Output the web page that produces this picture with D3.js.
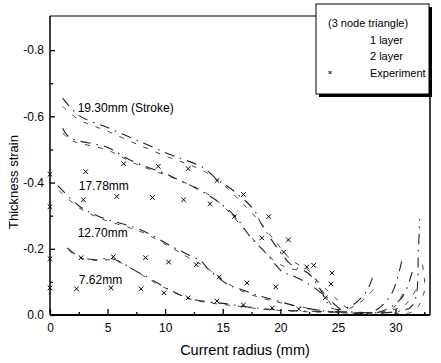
<!DOCTYPE html>
<html>
<head>
<meta charset="utf-8">
<script src="https://cdn.jsdelivr.net/npm/d3@7"></script>
<style>
  body { margin: 0; background: #fff; }
  svg { font-family: "Liberation Sans", Arial, sans-serif; }
</style>
</head>
<body>
<div id="chart"></div>
<script>
// stroke labels
const strokes = ["19.30mm (Stroke)", "17.78mm", "12.70mm", "7.62mm"];
const labelPos = [[2.4, -0.612], [2.5, -0.379], [2.4, -0.236], [2.5, -0.094]];

// FE curves, [radius, thickness strain]
const s1930_1L = [[1.1,-0.655],[2.5,-0.603],[5,-0.566],[7.8,-0.524],[10.4,-0.485],[11.6,-0.47],[13.3,-0.445],[14.5,-0.41],[15.8,-0.379],[17.7,-0.318],[18.4,-0.272],[20,-0.19],[21,-0.15],[22.4,-0.127],[23.5,-0.076],[24.5,-0.02],[26,-0.025],[27.4,-0.067],[28,-0.112]];
const s1930_2L = [[1.1,-0.63],[2.5,-0.59],[5,-0.555],[7.8,-0.512],[10.4,-0.475],[12,-0.455],[13.6,-0.43],[15,-0.395],[16.5,-0.345],[18,-0.29],[19.5,-0.225],[21,-0.165],[22.6,-0.13],[23.8,-0.065],[25,-0.012],[26.8,-0.035],[28.3,-0.085]];
const s1778_1L = [[1.1,-0.564],[1.7,-0.536],[5,-0.506],[7,-0.467],[10.2,-0.424],[11.3,-0.406],[12.4,-0.388],[14.2,-0.352],[16.1,-0.297],[17.4,-0.236],[18.8,-0.185],[20.2,-0.13],[20.9,-0.121],[22.3,-0.097],[23.8,-0.06],[25.6,-0.012],[28,-0.01],[29.6,-0.06],[30.6,-0.173]];
const s1778_2L = [[1.1,-0.55],[1.8,-0.528],[5,-0.498],[7.2,-0.46],[10.4,-0.418],[12,-0.395],[13.5,-0.37],[15,-0.33],[16.6,-0.27],[18,-0.215],[19.6,-0.16],[20.9,-0.14],[22.4,-0.127],[23.6,-0.09],[25,-0.045],[26.5,-0.008],[29.5,-0.012],[30.9,-0.082]];
const s1270_1L = [[0.7,-0.39],[2.5,-0.33],[4.3,-0.297],[7.8,-0.258],[10.7,-0.205],[12,-0.182],[13.2,-0.16],[13.7,-0.14],[15.5,-0.091],[16.2,-0.082],[18,-0.06],[20,-0.04],[22,-0.022],[25,-0.008],[28.5,-0.008],[30.5,-0.05],[31.5,-0.136]];
const s1270_2L = [[0.8,-0.375],[2.6,-0.322],[4.5,-0.29],[8,-0.25],[10.8,-0.198],[12.2,-0.17],[13.5,-0.145],[14.8,-0.11],[16.5,-0.075],[18.5,-0.05],[21,-0.03],[24,-0.012],[28,-0.006],[30.8,-0.03],[31.9,-0.085]];
const s762_1L = [[1.5,-0.203],[2.6,-0.175],[3.9,-0.167],[5.4,-0.17],[7.6,-0.13],[8.4,-0.115],[10.4,-0.076],[11.9,-0.052],[13.7,-0.04],[15,-0.035],[17,-0.025],[20,-0.015],[25,-0.01],[30,-0.01],[31.5,-0.03],[32,-0.206],[32.1,-0.29]];
const s762_2L = [[1.6,-0.195],[2.7,-0.172],[4,-0.165],[5.6,-0.165],[7.8,-0.125],[9,-0.1],[10.8,-0.068],[12.2,-0.048],[14,-0.036],[16,-0.028],[19,-0.016],[24,-0.008],[29,-0.008],[31.5,-0.01],[32.5,-0.07],[32.3,-0.16]];

const oneLayer = [s1930_1L, s1778_1L, s1270_1L, s762_1L];
const twoLayer = [s1930_2L, s1778_2L, s1270_2L, s762_2L];

// experiment points
const exp1930 = [[0,-0.425],[3.1,-0.433],[6.4,-0.457],[9.4,-0.449],[12.0,-0.442],[14.5,-0.406],[16.8,-0.364],[19.0,-0.297],[20.7,-0.227],[22.3,-0.145],[22.9,-0.15]];
const exp1778 = [[0,-0.327],[2.9,-0.348],[5.8,-0.358],[8.9,-0.355],[11.6,-0.348],[13.9,-0.336],[16.0,-0.297],[18.4,-0.233],[20.3,-0.19],[24.5,-0.127]];
const exp1270 = [[0,-0.17],[2.7,-0.173],[5.5,-0.176],[8.3,-0.173],[10.3,-0.16],[12.7,-0.152],[14.7,-0.115],[17.1,-0.097],[19.6,-0.085],[24.4,-0.094],[23.9,-0.052]];
const exp762 = [[0,-0.082],[2.3,-0.079],[5.3,-0.082],[7.9,-0.079],[9.9,-0.067],[12.0,-0.052],[14.5,-0.042],[16.8,-0.03],[19.3,-0.021],[21.6,-0.018]];
const experiments = [exp1930, exp1778, exp1270, exp762];

const yMajor = [0, -0.2, -0.4, -0.6, -0.8];
const yMinor = [-0.1, -0.3, -0.5, -0.7];
const xMajor = [0, 5, 10, 15, 20, 25, 30];
const xMinor = [2.5, 7.5, 12.5, 17.5, 22.5, 27.5, 32.5];
const legendItems = ["(3 node triangle)", "1 layer", "2 layer", "Experiment"];

const W = 441, H = 363;
const padL = 50, padR = 430, padT = 16, padB = 315;

const svg = d3.select("#chart").append("svg")
  .attr("width", W)
  .attr("height", H);

const x = d3.scaleLinear().domain([0, 33]).range([padL, padR]);
const y = d3.scaleLinear().domain([0, -0.9]).range([padB, padT + 1]);

// axes, ticks inward
const fmt = d => d === 0 ? "0.0" : d.toFixed(1);
svg.append("g")
  .attr("transform", "translate(" + padL + ",0)")
  .call(d3.axisLeft(y).tickValues(yMajor).tickSize(-5).tickPadding(6).tickFormat(fmt))
  .call(g => g.select(".domain").remove());
svg.append("g")
  .attr("transform", "translate(" + padL + ",0)")
  .call(d3.axisLeft(y).tickValues(yMinor).tickSize(-3).tickFormat(""))
  .call(g => g.select(".domain").remove());
svg.append("g")
  .attr("transform", "translate(0," + padB + ")")
  .call(d3.axisBottom(x).tickValues(xMajor).tickSize(-6).tickPadding(8))
  .call(g => g.select(".domain").remove());
svg.append("g")
  .attr("transform", "translate(0," + padB + ")")
  .call(d3.axisBottom(x).tickValues(xMinor).tickSize(-3).tickFormat(""))
  .call(g => g.select(".domain").remove());

svg.selectAll(".tick text").attr("font-size", 12).attr("fill", "#000")
  .attr("font-family", "'Liberation Sans', Arial, sans-serif");
svg.selectAll(".tick line").attr("stroke", "#000").attr("stroke-width", 1.3);

// frame
const frame = svg.append("g").attr("stroke", "#000").attr("fill", "none");
frame.append("line").attr("x1", padL).attr("y1", padT).attr("x2", padL).attr("y2", padB).attr("stroke-width", 1.5);
frame.append("line").attr("x1", padL).attr("y1", padB).attr("x2", padR).attr("y2", padB).attr("stroke-width", 2);
frame.append("line").attr("x1", padL).attr("y1", padT).attr("x2", 318).attr("y2", padT).attr("stroke-width", 1.2);
frame.append("line").attr("x1", padR).attr("y1", 92).attr("x2", padR).attr("y2", padB).attr("stroke-width", 1.5);

// curves
const line = d3.line()
  .x(d => x(d[0]))
  .y(d => y(d[1]))
  .curve(d3.curveCatmullRom.alpha(0.5));

svg.append("g").selectAll("path")
  .data(oneLayer)
  .join("path")
  .attr("d", line)
  .attr("fill", "none")
  .attr("stroke", "#222")
  .attr("stroke-width", 1.1)
  .attr("stroke-dasharray", "10,6,1.5,6");

svg.append("g").selectAll("path")
  .data(twoLayer)
  .join("path")
  .attr("d", line)
  .attr("fill", "none")
  .attr("stroke", "#333")
  .attr("stroke-width", 0.9)
  .attr("stroke-dasharray", "5,8");

// experiment crosses
const cross = "M-2.3,-2.3L2.3,2.3M-2.3,2.3L2.3,-2.3";
svg.append("g").selectAll("path")
  .data(experiments.flat())
  .join("path")
  .attr("transform", d => "translate(" + x(d[0]) + "," + y(d[1]) + ")")
  .attr("d", cross)
  .attr("stroke", "#000")
  .attr("stroke-width", 1);

// stroke labels
svg.append("g").selectAll("text")
  .data(strokes)
  .join("text")
  .attr("x", (d, i) => x(labelPos[i][0]))
  .attr("y", (d, i) => y(labelPos[i][1]))
  .attr("font-size", 12)
  .text(d => d);

// axis titles
svg.append("text")
  .attr("x", 245)
  .attr("y", 355)
  .attr("text-anchor", "middle")
  .attr("font-size", 14.5)
  .text("Current radius (mm)");
svg.append("text")
  .attr("transform", "translate(18,182) rotate(-90)")
  .attr("text-anchor", "middle")
  .attr("font-size", 13)
  .text("Thickness strain");

// legend box with shadow
const lg = svg.append("g");
lg.append("rect").attr("x", 319).attr("y", 7).attr("width", 113).attr("height", 90).attr("fill", "#000");
lg.append("rect").attr("x", 316).attr("y", 4).attr("width", 113).attr("height", 90)
  .attr("fill", "#fff").attr("stroke", "#000").attr("stroke-width", 1);
lg.selectAll("text")
  .data(legendItems)
  .join("text")
  .attr("x", (d, i) => i === 0 ? 328 : 370)
  .attr("y", (d, i) => 27 + i * 16.5)
  .attr("font-size", 11)
  .text(d => d);
lg.append("path")
  .attr("transform", "translate(330," + (23 + 3 * 16.5) + ")")
  .attr("d", "M-1.5,-1.5L1.5,1.5M-1.5,1.5L1.5,-1.5")
  .attr("stroke", "#000");
</script>
</body>
</html>
